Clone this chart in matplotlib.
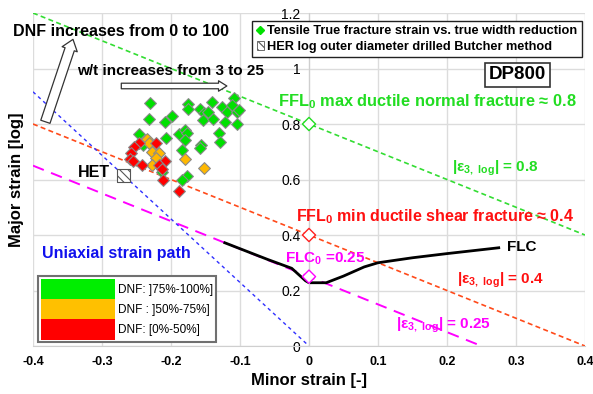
import matplotlib
matplotlib.use("Agg")
import matplotlib.pyplot as plt
import matplotlib.patches as mpatches
from matplotlib.lines import Line2D

plt.rcParams['font.family'] = ['Liberation Sans', 'DejaVu Sans']
plt.rcParams['mathtext.fontset'] = 'custom'
plt.rcParams['mathtext.bf'] = 'Liberation Sans:bold'
plt.rcParams['mathtext.rm'] = 'Liberation Sans:bold'
plt.rcParams['mathtext.it'] = 'Liberation Sans:bold'
plt.rcParams['mathtext.default'] = 'bf'
plt.rcParams['hatch.linewidth'] = 0.8

# ---------------- data ----------------
green_x = [-0.230, -0.232, -0.199, -0.209, -0.176, -0.176, -0.158, -0.141, -0.152, -0.146,
           -0.153, -0.139, -0.126, -0.119, -0.109, -0.112, -0.105, -0.101, -0.122, -0.105,
           -0.131, -0.129, -0.247, -0.207, -0.189, -0.180, -0.177, -0.180, -0.156, -0.158,
           -0.184, -0.240, -0.213, -0.177, -0.184]
green_y = [0.875, 0.819, 0.830, 0.808, 0.871, 0.854, 0.853, 0.880, 0.839, 0.844,
           0.814, 0.817, 0.862, 0.844, 0.893, 0.868, 0.844, 0.850, 0.808, 0.800,
           0.766, 0.736, 0.763, 0.751, 0.763, 0.778, 0.766, 0.742, 0.724, 0.712,
           0.706, 0.724, 0.628, 0.613, 0.598]
orange_x = [-0.235, -0.232, -0.228, -0.218, -0.221, -0.228, -0.180, -0.152]
orange_y = [0.745, 0.732, 0.700, 0.694, 0.679, 0.652, 0.673, 0.643]
red_x = [-0.247, -0.222, -0.254, -0.258, -0.259, -0.255, -0.242, -0.209, -0.218, -0.213, -0.211, -0.189]
red_y = [0.730, 0.730, 0.716, 0.697, 0.673, 0.668, 0.652, 0.668, 0.652, 0.637, 0.598, 0.560]

het_x = [-0.269]
het_y = [0.613]

ffl_max_x = [-0.4, 0.4]
ffl_max_y = [1.2, 0.4]
ffl_min_x = [-0.4, 0.4]
ffl_min_y = [0.8, 0.0]
eps025_x = [-0.4, 0.25]
eps025_y = [0.65, 0.0]
uniax_x = [-0.4, 0.0]
uniax_y = [0.916, 0.0]

flc_x = [-0.122, -0.06, -0.025, -0.005, 0.0, 0.025, 0.05, 0.08, 0.10, 0.15, 0.20, 0.275]
flc_y = [0.372, 0.312, 0.280, 0.235, 0.228, 0.228, 0.252, 0.285, 0.300, 0.318, 0.333, 0.354]

plane_x = [0.0, 0.0, 0.0]
plane_y = [0.8, 0.4, 0.25]
plane_colors = ['#22dd22', '#ff2020', '#ff00ff']

x_ticks = [-0.4, -0.3, -0.2, -0.1, 0, 0.1, 0.2, 0.3, 0.4]
x_labels = ['-0.4', '-0.3', '-0.2', '-0.1', '0', '0.1', '0.2', '0.3', '0.4']
y_ticks = [0, 0.2, 0.4, 0.6, 0.8, 1.0, 1.2]
y_labels = ['0', '0.2', '0.4', '0.6', '0.8', '1', '1.2']

dnf_labels = ['DNF: ]75%-100%]', 'DNF : ]50%-75%]', 'DNF: [0%-50%]']
dnf_colors = ['#00ee00', '#ffc000', '#ff0000']

# ---------------- figure ----------------
fig = plt.figure(figsize=(5.93, 3.94), dpi=100)
ax = fig.add_axes([0.0556, 0.1218, 0.9309, 0.8452])
ax.set_xlim(-0.4, 0.4)
ax.set_ylim(0, 1.2)

ax.set_xticks(x_ticks)
ax.set_xticklabels(x_labels, fontsize=9, fontweight='bold')
ax.set_yticks(y_ticks)
ax.set_yticklabels(y_labels, fontsize=9, fontweight='bold')
ax.tick_params(axis='both', length=0)
ax.tick_params(axis='x', pad=7)
ax.tick_params(axis='y', pad=6)
ax.grid(True, color='#dcdcdc', lw=1)
ax.set_axisbelow(True)
for s in ['top', 'right']:
    ax.spines[s].set_visible(False)
ax.spines['left'].set_position(('data', 0))
ax.spines['left'].set_color('#cfcfcf')
ax.spines['bottom'].set_color('#cfcfcf')

ax.set_xlabel('Minor strain [-]', fontsize=12, fontweight='bold', labelpad=4)
ax.text(-0.03, 0.5, 'Major strain [log]', fontsize=12, fontweight='bold', rotation=90,
        ha='center', va='center', transform=ax.transAxes)

# lines
ax.plot(ffl_max_x, ffl_max_y, color='#33dd33', lw=1.2, dashes=(3, 2))
ax.plot(ffl_min_x, ffl_min_y, color='#ff4a1a', lw=1.2, dashes=(3, 2))
ax.plot(eps025_x, eps025_y, color='#ff00ff', lw=1.4, dashes=(6, 4))
ax.plot(uniax_x, uniax_y, color='#3030ff', lw=1.0, dashes=(2.5, 2.5))
ax.plot(flc_x, flc_y, color='black', lw=2)

# scatter
ax.scatter(green_x, green_y, marker='D', s=36, c='#00e000', edgecolors='#8a8a8a', linewidths=0.8, zorder=3)
ax.scatter(orange_x, orange_y, marker='D', s=36, c='#ffb800', edgecolors='#8a8a8a', linewidths=0.8, zorder=3)
ax.scatter(red_x, red_y, marker='D', s=36, c='#ff0000', edgecolors='#8a8a8a', linewidths=0.8, zorder=3)
ax.scatter(het_x, het_y, marker='s', s=90, facecolor='white', edgecolors='#555555', hatch='\\\\\\\\', linewidths=0.8, zorder=3)
ax.scatter(plane_x, plane_y, marker='D', s=45, facecolor='white', edgecolors=plane_colors, linewidths=1.0, zorder=4)

# annotations
tb = dict(fontweight='bold', va='center', ha='left')
ax.text(-0.429, 1.135, 'DNF increases from 0 to 100', fontsize=11.5, clip_on=False, **tb)
ax.text(-0.336, 0.991, 'w/t increases from 3 to 25', fontsize=11, **tb)
ax.text(-0.045, 0.880, 'FFL$_0$ max ductile normal fracture ≈ 0.8', fontsize=11.8, color='#22dd22', **tb)
ax.text(0.207, 0.641, '|ε$_{3,\\ log}$| = 0.8', fontsize=11, color='#22dd22', **tb)
ax.text(-0.019, 0.465, 'FFL$_0$ min ductile shear fracture ≈ 0.4', fontsize=11.5, color='#ff1010', **tb)
ax.text(0.287, 0.358, 'FLC', fontsize=11, color='black', **tb)
ax.text(0.214, 0.238, '|ε$_{3,\\ log}$| = 0.4', fontsize=11, color='#ff1010', **tb)
ax.text(-0.035, 0.316, 'FLC$_0$ =0.25', fontsize=11, color='#ff00ff', **tb)
ax.text(0.126, 0.076, '|ε$_{3,\\ log}$| = 0.25', fontsize=11, color='#ff00ff', **tb)
ax.text(-0.335, 0.624, 'HET', fontsize=11.5, color='black', **tb)
ax.text(-0.387, 0.334, 'Uniaxial strain path', fontsize=11.5, color='#1010ee', **tb)
ax.text(0.302, 0.977, 'DP800', fontsize=13.5, fontweight='bold', ha='center', va='center',
        bbox=dict(boxstyle='square,pad=0.2', fc='white', ec='#333333', lw=1.2))

# hollow arrows
ax.annotate('', xy=(-0.342, 1.105), xytext=(-0.382, 0.808),
            arrowprops=dict(arrowstyle='simple,head_width=11.5,head_length=7.5,tail_width=7',
                            mutation_scale=1, fc='white', ec='#333333', lw=0.9,
                            shrinkA=0, shrinkB=0))
ax.annotate('', xy=(-0.119, 0.937), xytext=(-0.272, 0.937),
            arrowprops=dict(arrowstyle='simple,head_width=7.5,head_length=6,tail_width=4',
                            mutation_scale=1, fc='white', ec='#333333', lw=0.9,
                            shrinkA=0, shrinkB=0))

# top legend
h1 = Line2D([], [], marker='D', color='#00e000', markersize=4, linestyle='none')
h2 = mpatches.Rectangle((0, 0), 1, 1, facecolor='white', edgecolor='#555555', hatch='\\\\\\\\', lw=0.6)
leg1 = ax.legend([h1, h2], ['Tensile True fracture strain vs. true width reduction',
                            'HER log outer diameter drilled Butcher method'],
                 loc='upper left', bbox_to_anchor=(0.397, 0.977), borderaxespad=0,
                 prop=dict(size=9.2, weight='bold'), handlelength=0.6, handleheight=0.6,
                 handletextpad=0.25, labelspacing=0.3, borderpad=0.35, fancybox=False,
                 framealpha=1, edgecolor='#222222')
leg1.get_frame().set_linewidth(1.0)
ax.add_artist(leg1)

# DNF legend
dnf_handles = [mpatches.Patch(facecolor=c, edgecolor='none') for c in dnf_colors]
leg2 = ax.legend(dnf_handles, dnf_labels, loc='upper left', bbox_to_anchor=(0.009, 0.210),
                 borderaxespad=0, prop=dict(size=8.5), handlelength=6.3, handleheight=2.25,
                 handletextpad=0.2, labelspacing=0, borderpad=0.25, fancybox=False,
                 framealpha=1, edgecolor='#707070')
leg2.get_frame().set_linewidth(1.5)

fig.savefig('out.png', dpi=100)
